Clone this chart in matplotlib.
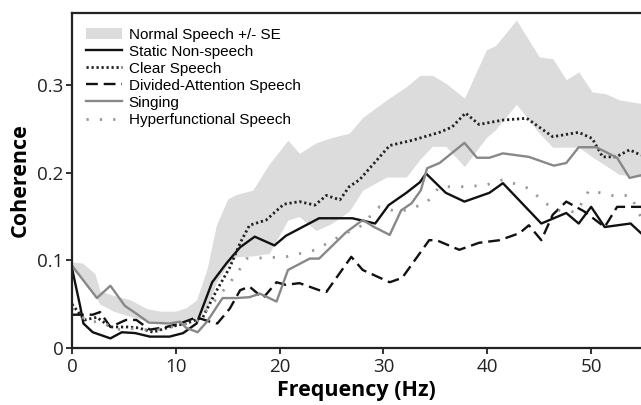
import matplotlib
matplotlib.use('Agg')
import matplotlib.pyplot as plt

# Normal speech +/- SE band
band_f = [0, 1, 2.2, 2.7, 4, 5.6, 7.2, 8.5, 10, 11, 12, 13, 13.9, 15, 15.8, 17.4, 19, 20.8, 21.9, 23.5,
          25, 26.7, 28, 30.3, 32.2, 33.5, 34.7, 36, 37.8, 39.9, 40.8, 42.8, 45, 46.3, 47.6, 48.8,
          50.1, 51.4, 52.7, 54.8]
band_hi = [0.098, 0.097, 0.085, 0.065, 0.06, 0.055, 0.045, 0.042, 0.042, 0.046, 0.055, 0.09, 0.14,
           0.17, 0.175, 0.18, 0.21, 0.237, 0.222, 0.234, 0.24, 0.245, 0.263, 0.283, 0.298, 0.311, 0.311,
           0.302, 0.285, 0.34, 0.345, 0.374, 0.332, 0.33, 0.306, 0.315, 0.292, 0.29, 0.283, 0.279]
band_lo = [0.09, 0.078, 0.06, 0.05, 0.042, 0.036, 0.031, 0.03, 0.03, 0.031, 0.035, 0.045, 0.075,
           0.095, 0.104, 0.105, 0.108, 0.146, 0.15, 0.134, 0.142, 0.156, 0.18, 0.195, 0.195, 0.215,
           0.23, 0.23, 0.207, 0.24, 0.249, 0.278, 0.245, 0.229, 0.229, 0.229, 0.218, 0.208, 0.198, 0.195]

static_f = [0, 0.8, 1.1, 2, 3.7, 4.8, 6.1, 7.5, 9.4, 10.7, 12, 13.5, 14.9, 16.2, 17.6, 19.5, 20.6,
            23.8, 27, 29.2, 30.5, 32.2, 33.5, 34.1, 36, 37.8, 40.2, 41.5, 45.2, 47.6, 48.8, 50,
            51.3, 53.8, 54.8]
static_y = [0.091, 0.047, 0.028, 0.018, 0.011, 0.018, 0.017, 0.013, 0.013, 0.017, 0.028, 0.075,
            0.097, 0.115, 0.127, 0.117, 0.128, 0.148, 0.148, 0.142, 0.163, 0.177, 0.189, 0.199,
            0.177, 0.167, 0.177, 0.188, 0.142, 0.154, 0.142, 0.161, 0.138, 0.142, 0.131]

clear_f = [0, 1.2, 2.4, 3.7, 5.3, 6.4, 7.8, 9.4, 11, 12.6, 13.9, 15.2, 16.2, 17.1, 18.7, 20.4,
           21.9, 23.4, 24.5, 25.8, 26.7, 27.7, 30.6, 32.8, 35.4, 36.6, 37.9, 39.2, 41.5, 43.8,
           46.3, 48.8, 50.1, 51.1, 52.4, 53.7, 54.8]
clear_y = [0.05, 0.032, 0.035, 0.024, 0.024, 0.023, 0.018, 0.024, 0.028, 0.035, 0.065, 0.092,
           0.12, 0.14, 0.146, 0.164, 0.167, 0.163, 0.174, 0.169, 0.184, 0.192, 0.231, 0.237, 0.246,
           0.252, 0.268, 0.255, 0.26, 0.262, 0.241, 0.246, 0.239, 0.218, 0.218, 0.226, 0.22]

divided_f = [0, 2, 2.7, 3.7, 5.2, 6.2, 7.5, 9.1, 10.4, 12, 13.3, 14, 15.2, 16.2, 17.1, 18.4, 19.7,
             20.6, 21.9, 23.8, 24.5, 26.9, 28, 30.6, 31.8, 34.4, 35.1, 37.3, 39.2, 41.2, 43.1,
             44, 45.2, 46.3, 47.6, 49.3, 51.3, 52.5, 54.8]
divided_y = [0.038, 0.038, 0.041, 0.024, 0.032, 0.032, 0.021, 0.024, 0.028, 0.035, 0.03, 0.028,
             0.045, 0.066, 0.07, 0.057, 0.075, 0.072, 0.074, 0.066, 0.064, 0.104, 0.089, 0.075,
             0.08, 0.123, 0.123, 0.112, 0.12, 0.123, 0.131, 0.14, 0.123, 0.152, 0.167, 0.156,
             0.138, 0.161, 0.161]

singing_f = [0, 2.4, 3.7, 5.1, 6.1, 7.4, 9.4, 10.4, 11, 12.1, 13, 14.5, 15.9, 17.1, 18.1, 19.7,
             20.8, 22.9, 23.8, 26.4, 28, 29.1, 30.6, 31.7, 32.7, 33.6, 34.2, 35.4, 37.8, 39, 40.2,
             41.5, 44, 46.4, 47.6, 48.8, 50.5, 52.5, 53.7, 54.8]
singing_y = [0.094, 0.057, 0.071, 0.048, 0.04, 0.029, 0.028, 0.03, 0.023, 0.018, 0.03, 0.057,
             0.057, 0.058, 0.062, 0.053, 0.089, 0.102, 0.102, 0.132, 0.146, 0.138, 0.129, 0.157,
             0.165, 0.18, 0.205, 0.211, 0.234, 0.217, 0.217, 0.222, 0.218, 0.208, 0.211, 0.229,
             0.229, 0.217, 0.194, 0.197]

hyper_f = [0, 1.5, 3, 4, 6, 8, 10, 12, 14.2, 15.9, 16.8, 20.6, 23.5, 25.1, 26.4, 27.7, 29.6,
           31.5, 34.1, 35.4, 38, 39.9, 41.5, 44, 45.6, 46.9, 48.6, 49.8, 52, 53.8, 54.8]
hyper_y = [0.045, 0.03, 0.03, 0.021, 0.022, 0.02, 0.025, 0.03, 0.06, 0.085, 0.102, 0.104, 0.112,
           0.123, 0.131, 0.138, 0.161, 0.155, 0.165, 0.184, 0.184, 0.186, 0.192, 0.182, 0.165,
           0.157, 0.155, 0.18, 0.174, 0.174, 0.149]

plt.rcParams['font.family'] = ['Open Sans', 'DejaVu Sans']

fig = plt.figure(figsize=(6.41, 4.05), dpi=100)
ax = fig.add_axes([0.1123, 0.1407, 0.8877, 0.827])

ax.fill_between(band_f, band_lo, band_hi, color='#dcdcdc', lw=0, label='Normal Speech +/- SE')
ax.plot(static_f, static_y, color='#111111', lw=1.7, label='Static Non-speech')
ax.plot(clear_f, clear_y, color='#222222', lw=2.0, ls=(0, (0.8, 1.0)), label='Clear Speech')
ax.plot(divided_f, divided_y, color='#111111', lw=1.7, ls=(0, (5, 2.5)), label='Divided-Attention Speech')
ax.plot(singing_f, singing_y, color='#888888', lw=1.7, label='Singing')
ax.plot(hyper_f, hyper_y, color='#999999', lw=2.0, ls=(0, (0.8, 4)), label='Hyperfunctional Speech')

ax.set_xlim(0, 54.8)
ax.set_ylim(0, 0.382)
ax.set_xticks([0, 10, 20, 30, 40, 50])
ax.set_yticks([0, 0.1, 0.2, 0.3])
ax.set_yticklabels(['0', '0.1', '0.2', '0.3'])
ax.tick_params(labelsize=13.5, length=4, width=1.3, colors='#222222', pad=2)
ax.tick_params(axis='x', pad=3)

for s in ['left', 'bottom', 'top']:
    ax.spines[s].set_linewidth(1.6)
    ax.spines[s].set_color('#222222')
ax.spines['right'].set_visible(False)

ax.set_xlabel('Frequency (Hz)', fontsize=15.5, fontweight='bold', labelpad=3)
ax.set_ylabel('Coherence', fontsize=15.5, fontweight='bold', labelpad=5)

leg = ax.legend(loc='upper left', bbox_to_anchor=(0.0, 1.0), frameon=False,
                prop={'family': 'Liberation Sans', 'size': 11}, handlelength=2.3,
                handletextpad=0.45, labelspacing=0.2, borderaxespad=0.55)

plt.savefig('out.png', dpi=100)
